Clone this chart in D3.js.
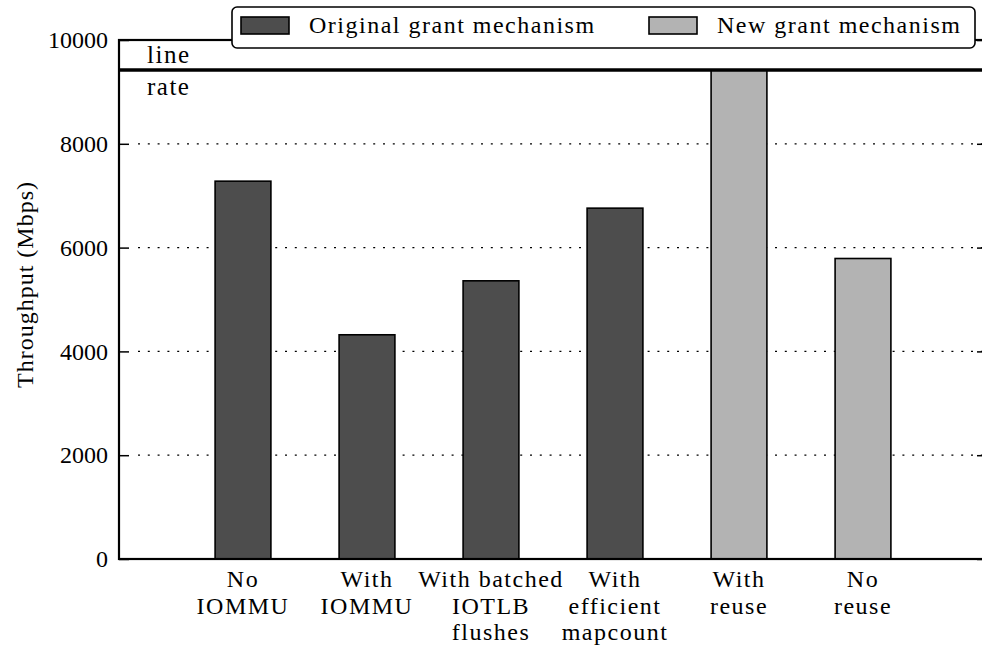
<!DOCTYPE html>
<html>
<head>
<meta charset="utf-8">
<script src="https://cdn.jsdelivr.net/npm/d3@7"></script>
<style>
  body { margin: 0; background: #fff; }
</style>
</head>
<body>
<div id="chart-container"></div>
<script>
// Data
const categories = [
    ["No", "IOMMU"],
    ["With", "IOMMU"],
    ["With batched", "IOTLB", "flushes"],
    ["With", "efficient", "mapcount"],
    ["With", "reuse"],
    ["No", "reuse"]
];
const throughput = [7280, 4320, 5360, 6760, 9420, 5790];
const mechanism = [0, 0, 0, 0, 1, 1];
const seriesNames = ["Original grant mechanism", "New grant mechanism"];
const seriesColors = ["#4d4d4d", "#b3b3b3"];
const yTicks = [0, 2000, 4000, 6000, 8000, 10000];
const lineRate = 9420;

const FONT = "'Liberation Serif', 'Times New Roman', serif";

// Size and plot area
const W = 982, H = 649;
const plot = { left: 119, right: 987, top: 40, bottom: 559 };

const svg = d3.select("#chart-container")
              .append("svg")
              .attr("width", W)
              .attr("height", H);

// Scales
const xScale = d3.scaleLinear()
                 .domain([0, categories.length + 1])
                 .range([plot.left, plot.right]);

const yScale = d3.scaleLinear()
                 .domain([0, 10000])
                 .range([plot.bottom, plot.top]);

const barW = xScale(0.45) - xScale(0);

// Dotted grid
svg.append("g")
   .selectAll("line")
   .data(yTicks.slice(1, -1))
   .join("line")
   .attr("x1", plot.left + 19)
   .attr("x2", plot.right)
   .attr("y1", d => yScale(d))
   .attr("y2", d => yScale(d))
   .attr("stroke", "#000")
   .attr("stroke-width", 1.2)
   .attr("stroke-dasharray", "2,7.8");

// Bars
svg.append("g")
   .selectAll("rect")
   .data(throughput)
   .join("rect")
   .attr("x", (d, i) => xScale(i + 1) - barW / 2)
   .attr("y", d => yScale(d))
   .attr("width", barW)
   .attr("height", d => yScale(0) - yScale(d))
   .attr("fill", (d, i) => seriesColors[mechanism[i]])
   .attr("stroke", "#000")
   .attr("stroke-width", 1.6);

// Line rate
svg.append("line")
   .attr("x1", plot.left)
   .attr("x2", plot.right)
   .attr("y1", yScale(lineRate))
   .attr("y2", yScale(lineRate))
   .attr("stroke", "#000")
   .attr("stroke-width", 3.5);

["line", "rate"].forEach((word, i) => {
    svg.append("text")
       .attr("x", 147)
       .attr("y", yScale(lineRate) + (i === 0 ? -7 : 25))
       .style("font-family", FONT)
       .style("font-size", "25px")
       .style("letter-spacing", "1.5px")
       .text(word);
});

// Left axis with inward ticks
const yAxis = svg.append("g")
   .attr("transform", `translate(${plot.left},0)`)
   .call(d3.axisLeft(yScale).tickValues(yTicks).tickFormat(d3.format("d"))
           .tickSizeInner(-10).tickSizeOuter(0).tickPadding(11));
yAxis.select(".domain").remove();
yAxis.selectAll(".tick line").attr("stroke-width", 1.5);
yAxis.selectAll(".tick text")
     .attr("fill", "#000")
     .style("font-family", FONT)
     .style("font-size", "24px");

// Right-side ticks
svg.append("g")
   .attr("transform", `translate(${plot.right},0)`)
   .call(d3.axisRight(yScale).tickValues(yTicks).tickSizeInner(-10).tickSizeOuter(0).tickFormat(""))
   .call(g => g.select(".domain").remove())
   .selectAll(".tick line").attr("stroke-width", 1.5);

// Frame
svg.append("rect")
   .attr("x", plot.left)
   .attr("y", plot.top)
   .attr("width", plot.right - plot.left)
   .attr("height", plot.bottom - plot.top)
   .attr("fill", "none")
   .attr("stroke", "#000")
   .attr("stroke-width", 2.2);

// X labels, one line per row
const xLabels = svg.append("g")
   .selectAll("text")
   .data(categories)
   .join("text")
   .attr("text-anchor", "middle")
   .style("font-family", FONT)
   .style("font-size", "24px")
   .style("letter-spacing", "1.5px")
   .attr("transform", (d, i) => `translate(${xScale(i + 1)},${plot.bottom + 28})`);

xLabels.selectAll("tspan")
   .data(d => d)
   .join("tspan")
   .attr("x", 0)
   .attr("y", (d, i) => i * 26.5)
   .text(d => d);

// Y axis title
svg.append("text")
   .attr("transform", `translate(33,${(plot.top + plot.bottom) / 2 - 15}) rotate(-90)`)
   .attr("text-anchor", "middle")
   .style("font-family", FONT)
   .style("font-size", "24px")
   .style("letter-spacing", "1px")
   .text("Throughput (Mbps)");

// Legend
const legend = svg.append("g");
legend.append("rect")
      .attr("x", 232)
      .attr("y", 7)
      .attr("width", 743)
      .attr("height", 41)
      .attr("rx", 5)
      .attr("fill", "#fff")
      .attr("stroke", "#000")
      .attr("stroke-width", 1.6);

const legendX = [241, 649];
seriesNames.forEach((name, i) => {
    legend.append("rect")
          .attr("x", legendX[i])
          .attr("y", 17)
          .attr("width", 48)
          .attr("height", 17)
          .attr("fill", seriesColors[i])
          .attr("stroke", "#000")
          .attr("stroke-width", 1.6);
    legend.append("text")
          .attr("x", legendX[i] + 68)
          .attr("y", 33)
          .style("font-family", FONT)
          .style("font-size", "24px")
          .style("letter-spacing", "1.5px")
          .text(name);
});
</script>
</body>
</html>
